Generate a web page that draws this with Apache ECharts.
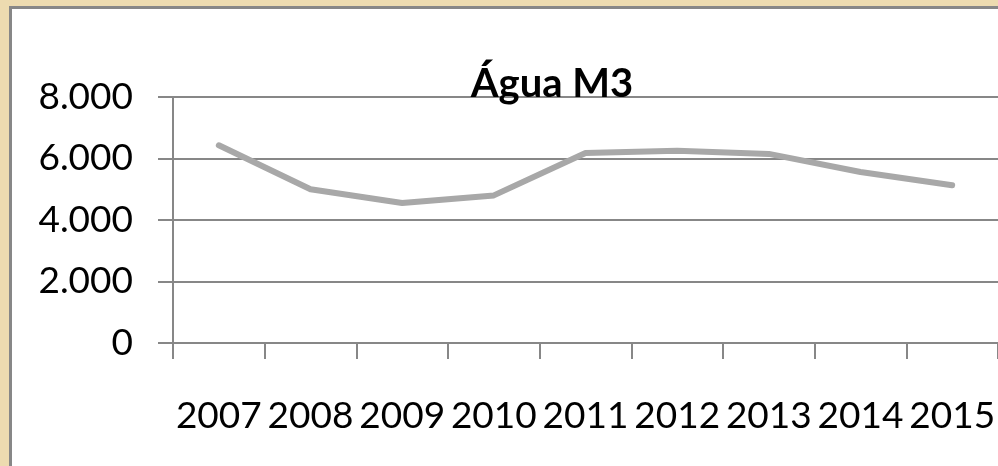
<!DOCTYPE html>
<html>
<head>
<meta charset="utf-8">
<script src="https://cdn.jsdelivr.net/npm/echarts@6/dist/echarts.min.js"></script>
<style>
  html, body { margin: 0; padding: 0; background: #eddbb0; }
  #chart { width: 998px; height: 466px; }
</style>
</head>
<body>
<div id="chart"></div>
<script>
const years = ['2007', '2008', '2009', '2010', '2011', '2012', '2013', '2014', '2015'];
const agua = [6430, 5000, 4550, 4800, 6180, 6250, 6150, 5560, 5130];
const yTicks = [0, 2000, 4000, 6000, 8000];

const chart = echarts.init(document.getElementById('chart'));

const option = {
  backgroundColor: '#eddbb0',
  animation: false,
  graphic: [
    {
      // white chart panel with gray frame
      type: 'rect',
      z: -10,
      shape: { x: 10.5, y: 7.5, width: 1000, height: 470 },
      style: { fill: '#ffffff', stroke: '#878787', lineWidth: 3 },
    },
  ],
  title: {
    text: 'Água M3',
    left: 547,
    textAlign: 'center',
    top: 59,
    textStyle: {
      fontFamily: 'Lato',
      fontWeight: 'bold',
      fontSize: 40,
      color: '#000',
    },
  },
  grid: {
    left: 173,
    right: -4,
    top: 97,
    bottom: 123,
    containLabel: false,
  },
  xAxis: {
    type: 'category',
    data: years,
    boundaryGap: true,
    axisLine: { lineStyle: { color: '#878787', width: 2 } },
    axisTick: { show: true, length: 16, lineStyle: { color: '#878787', width: 2 } },
    axisLabel: {
      margin: 55,
      fontFamily: 'Lato',
      fontSize: 37,
      color: '#000',
      interval: 0,
    },
  },
  yAxis: {
    type: 'value',
    min: yTicks[0],
    max: yTicks[yTicks.length - 1],
    interval: 2000,
    axisLine: { show: true, lineStyle: { color: '#878787', width: 2 } },
    axisTick: { show: true, length: 15, lineStyle: { color: '#878787', width: 2 } },
    splitLine: { lineStyle: { color: '#878787', width: 2 } },
    axisLabel: {
      margin: 40,
      fontFamily: 'Lato',
      fontSize: 37,
      color: '#000',
      formatter: (v) => v.toLocaleString('pt-BR'),
    },
  },
  series: [
    {
      name: 'Água M3',
      type: 'line',
      data: agua,
      symbol: 'none',
      lineStyle: { color: '#a8a8a8', width: 6, join: 'round', cap: 'round' },
    },
  ],
};

chart.setOption(option);
</script>
</body>
</html>
